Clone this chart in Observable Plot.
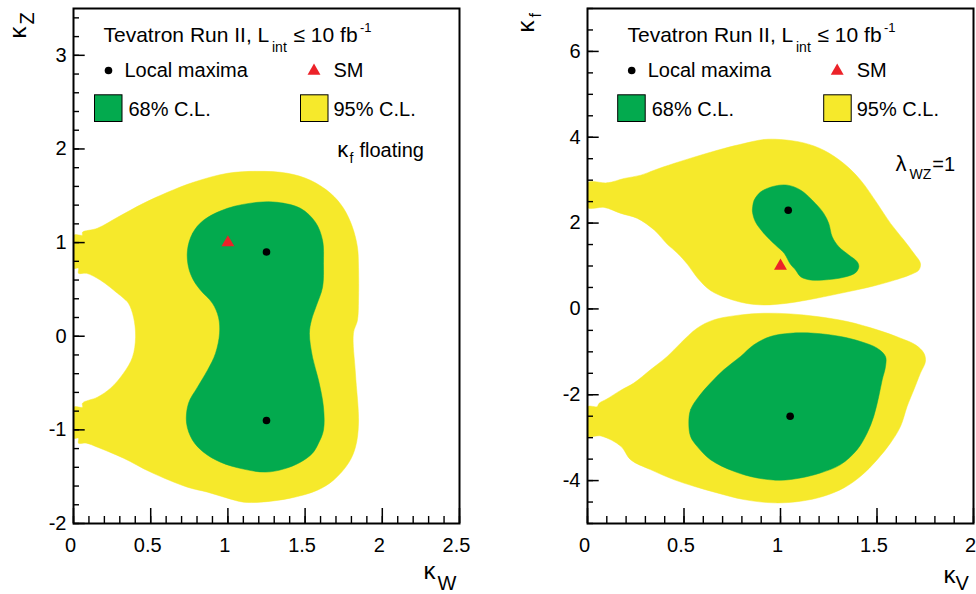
<!DOCTYPE html>
<html><head><meta charset="utf-8">
<script src="https://cdn.jsdelivr.net/npm/d3@7"></script>
<script src="https://cdn.jsdelivr.net/npm/@observablehq/plot@0.6"></script>
<style>
body{margin:0;background:#fff;}
#wrap{display:flex;width:976px;height:594px;overflow:hidden;}
#wrap svg{flex:0 0 auto;overflow:visible;}
</style></head><body><div id="wrap"></div>
<script>
// ---------- data ----------
// Left panel: kappa_W (x) vs kappa_Z (y), kappa_f floating
const leftYellow95 = [[0,1.078],[0.058,1.078],[0.058,1.11],[0.155,1.153],[0.285,1.27],[0.453,1.419],[0.609,1.537],[0.777,1.644],[0.997,1.74],[1.192,1.761],[1.386,1.74],[1.535,1.665],[1.665,1.526],[1.749,1.366],[1.807,1.163],[1.839,0.95],[1.846,0.736],[1.846,0.384],[1.839,0.171],[1.813,0.032],[1.826,-0.395],[1.846,-0.928],[1.826,-1.185],[1.781,-1.355],[1.684,-1.537],[1.58,-1.644],[1.405,-1.729],[1.211,-1.772],[1.101,-1.772],[0.997,-1.729],[0.868,-1.665],[0.738,-1.612],[0.499,-1.451],[0.324,-1.302],[0.155,-1.185],[0.084,-1.142],[0.032,-1.142],[0.032,-1.089],[0,-1.089],[0,-0.758],[0.058,-0.758],[0.058,-0.715],[0.155,-0.651],[0.24,-0.555],[0.324,-0.395],[0.382,-0.224],[0.402,-0.011],[0.389,0.203],[0.356,0.352],[0.324,0.406],[0.285,0.459],[0.175,0.598],[0.084,0.672],[0.032,0.672],[0.032,0.726],[0,0.726]];
const leftGreen68 = [[0.738,0.918],[0.771,1.099],[0.842,1.238],[0.997,1.366],[1.192,1.43],[1.321,1.43],[1.47,1.366],[1.567,1.217],[1.613,1.025],[1.619,0.779],[1.613,0.523],[1.574,0.331],[1.541,0.171],[1.528,0.032],[1.548,-0.224],[1.587,-0.47],[1.619,-0.758],[1.619,-1.003],[1.587,-1.142],[1.548,-1.249],[1.47,-1.345],[1.36,-1.419],[1.244,-1.451],[1.101,-1.419],[0.952,-1.345],[0.842,-1.238],[0.771,-1.11],[0.732,-0.928],[0.745,-0.715],[0.803,-0.544],[0.868,-0.363],[0.92,-0.181],[0.946,0.032],[0.939,0.203],[0.9,0.352],[0.823,0.491],[0.777,0.598],[0.745,0.736]];
const leftMaxima = [[1.25,0.9],[1.25,-0.9]];
const leftSM = [[1,1]];

// Right panel: kappa_V (x) vs kappa_f (y), lambda_WZ = 1
const rightYellowUpper95 = [[0,2.937],[0.104,2.937],[0.19,3.04],[0.276,3.116],[0.346,3.233],[0.447,3.388],[0.568,3.558],[0.706,3.737],[0.81,3.853],[0.914,3.947],[1.0,3.947],[1.121,3.868],[1.224,3.698],[1.328,3.388],[1.415,3.0],[1.501,2.458],[1.57,1.993],[1.639,1.605],[1.691,1.295],[1.725,1.063],[1.717,0.907],[1.682,0.814],[1.622,0.714],[1.483,0.535],[1.311,0.364],[1.14,0.209],[1.026,0.128],[0.912,0.093],[0.819,0.133],[0.725,0.249],[0.637,0.43],[0.57,0.72],[0.518,1.04],[0.466,1.3],[0.415,1.5],[0.346,1.837],[0.259,2.109],[0.173,2.226],[0.087,2.365],[0,2.365]];
const rightGreenUpper68 = [[0.855,2.349],[0.864,2.535],[0.898,2.728],[0.967,2.86],[1.036,2.884],[1.105,2.767],[1.181,2.458],[1.224,2.226],[1.25,1.993],[1.268,1.681],[1.302,1.449],[1.354,1.256],[1.397,1.1],[1.406,0.984],[1.389,0.844],[1.328,0.737],[1.224,0.674],[1.155,0.674],[1.104,0.751],[1.078,0.907],[1.05,1.05],[1.02,1.29],[0.974,1.488],[0.914,1.76],[0.87,2.03],[0.855,2.25]];
const rightYellowLower95 = [[0,-2.28],[0.05,-2.28],[0.06,-2.2],[0.1,-2.1],[0.171,-1.9],[0.24,-1.728],[0.326,-1.419],[0.413,-1.109],[0.482,-0.798],[0.568,-0.449],[0.654,-0.256],[0.793,-0.14],[0.914,-0.101],[1.052,-0.116],[1.19,-0.178],[1.346,-0.294],[1.501,-0.488],[1.622,-0.682],[1.699,-0.837],[1.743,-1.031],[1.751,-1.225],[1.725,-1.496],[1.691,-1.884],[1.656,-2.271],[1.622,-2.736],[1.57,-3.124],[1.501,-3.512],[1.415,-3.899],[1.328,-4.171],[1.224,-4.364],[1.104,-4.481],[0.965,-4.519],[0.81,-4.442],[0.672,-4.287],[0.551,-4.132],[0.447,-3.977],[0.326,-3.744],[0.223,-3.512],[0.173,-3.2],[0.07,-2.96],[0,-2.96]];
const rightGreenLower68 = [[0.525,-2.658],[0.534,-2.349],[0.577,-2.039],[0.637,-1.728],[0.706,-1.419],[0.793,-1.109],[0.862,-0.837],[0.948,-0.643],[1.052,-0.566],[1.173,-0.566],[1.311,-0.643],[1.415,-0.76],[1.501,-0.915],[1.544,-1.109],[1.544,-1.341],[1.527,-1.651],[1.509,-2.039],[1.483,-2.504],[1.449,-2.891],[1.397,-3.279],[1.311,-3.628],[1.207,-3.822],[1.104,-3.938],[1.0,-3.992],[0.879,-3.938],[0.758,-3.783],[0.637,-3.512],[0.568,-3.202],[0.534,-2.97]];
const rightMaxima = [[1.04,2.3],[1.05,-2.5]];
const rightSM = [[1,1]];

// tick labels
const leftXTicks = [0, 0.5, 1, 1.5, 2, 2.5];
const leftYTicks = [-2, -1, 0, 1, 2, 3];
const rightXTicks = [0, 0.5, 1, 1.5, 2];
const rightYTicks = [-4, -2, 0, 2, 4, 6];

// ---------- styling ----------
const FONT = "Liberation Sans, Arial, Helvetica, sans-serif";
const YEL = "#f6e92b", GRN = "#03aa4e", RED = "#ec2229";
const H = 594, MT = 8, MB = 71;

function panel(o) {
  const innerW = o.width - o.mL - o.mR, innerH = H - MT - MB;
  const T = (txt, dx, dy, fontSize = 20, extra = {}) =>
    Plot.text([txt], {text: d => d, frameAnchor: "top-left", dx, dy, fontSize, textAnchor: "start", lineAnchor: "bottom", fill: "black", ...extra});
  const L = o.legDx;
  const box = (bx, color) => Plot.frame({fill: color, stroke: "black", strokeWidth: 1,
    insetLeft: bx, insetTop: 86.3, insetRight: innerW - bx - 27.5, insetBottom: innerH - 86.3 - 26.7});
  const marks = [
    ...o.yellow.map(p => Plot.line(p, {x: d => d[0], y: d => d[1], fill: YEL, stroke: YEL, strokeWidth: 0.5, curve: "catmull-rom-closed", clip: true})),
    ...o.green.map(p => Plot.line(p, {x: d => d[0], y: d => d[1], fill: GRN, stroke: GRN, strokeWidth: 0.5, curve: "catmull-rom-closed", clip: true})),
    Plot.ruleX(o.xMinor, {x: d => d, insetTop: innerH - 7, strokeWidth: 1.4, stroke: "black"}),
    Plot.ruleX(o.xTicks, {x: d => d, insetTop: innerH - 15, strokeWidth: 1.5, stroke: "black"}),
    Plot.ruleY(o.yMinor, {y: d => d, insetRight: innerW - 6, strokeWidth: 1.4, stroke: "black"}),
    Plot.ruleY(o.yTicks, {y: d => d, insetRight: innerW - 11.7, strokeWidth: 1.5, stroke: "black"}),
    Plot.frame({stroke: "black", strokeWidth: 2}),
    Plot.text(o.xTicks, {x: d => d, text: d => String(d), frameAnchor: "bottom", lineAnchor: "top", dy: 14, dx: -3, fontSize: 20, fill: "black"}),
    Plot.text(o.yTicks, {y: d => d, text: d => String(d), frameAnchor: "left", textAnchor: "end", lineAnchor: "middle", dx: -7, fontSize: 20, fill: "black"}),
    Plot.dot(o.maxima, {x: d => d[0], y: d => d[1], r: 3.8, fill: "black", stroke: "none"}),
    Plot.dot(o.sm, {x: d => d[0], y: d => d[1], symbol: "triangle", r: 4.8, fill: RED, stroke: "none"}),
    // legend
    T("Tevatron Run II, L", o.titleDx, 33.7, 21),
    T("int", o.titleDx + 168.5, 43, 14),
    T("\u2264 10 fb", o.titleDx + 190, 33.7, 21),
    T("-1", o.titleDx + 256.5, 23, 13),
    Plot.dot([0], {frameAnchor: "top-left", dx: 35 + L, dy: 62, r: 3.8, fill: "black", stroke: "none"}),
    T("Local maxima", 51 + L, 68.7),
    Plot.dot([0], {frameAnchor: "top-left", dx: 240.5 + L, dy: 62.5, r: 4.8, symbol: "triangle", fill: RED, stroke: "none"}),
    T("SM", 260 + L, 68.7),
    box(21 + L, GRN),
    T("68% C.L.", 55 + L, 107.7),
    box(227 + L, YEL),
    T("95% C.L.", 260 + L, 107.7),
    ...o.extra.map(e => T(e[0], e[1], e[2], e[3])),
    // axis titles
    ...o.xTitle.map(e => Plot.text([e[0]], {text: d => d, frameAnchor: "bottom-right", dx: e[1], dy: e[2], fontSize: e[3], textAnchor: "start", lineAnchor: "bottom", fill: "black"})),
    ...o.yTitle.map(e => Plot.text([e[0]], {text: d => d, frameAnchor: "top-left", dx: e[1], dy: e[2], fontSize: e[3], rotate: -90, textAnchor: "start", lineAnchor: "bottom", fill: "black"}))
  ];
  return Plot.plot({
    width: o.width, height: H,
    marginLeft: o.mL, marginRight: o.mR, marginTop: MT, marginBottom: MB,
    style: {fontFamily: FONT, background: "white", color: "black"},
    x: {domain: o.xDomain, axis: null},
    y: {domain: o.yDomain, axis: null},
    marks
  });
}

const left = panel({
  width: 488, mL: 73, mR: 29,
  xDomain: [0, 2.5], yDomain: [-2, 3.5],
  xTicks: leftXTicks, yTicks: leftYTicks,
  xMinor: d3.range(0, 2.5001, 0.1), yMinor: d3.range(-2, 3.5001, 0.2),
  yellow: [leftYellow95], green: [leftGreen68],
  maxima: leftMaxima, sm: leftSM,
  legDx: 0, titleDx: 30,
  extra: [["\u03ba", 263.7, 148.7, 22], ["f", 276, 154, 14], ["floating", 286, 148.7, 20]],
  xTitle: [["\u03ba", -36, 55, 24], ["W", -22, 66, 20]],
  yTitle: [["\u03ba", -48, 30, 24], ["Z", -40, 16, 20]]
});
const right = panel({
  width: 488, mL: 99, mR: 3,
  xDomain: [0, 2], yDomain: [-5, 7],
  xTicks: rightXTicks, yTicks: rightYTicks,
  xMinor: d3.range(0, 2.0001, 0.1), yMinor: d3.range(-5, 7.0001, 0.5),
  yellow: [rightYellowUpper95, rightYellowLower95], green: [rightGreenUpper68, rightGreenLower68],
  maxima: rightMaxima, sm: rightSM,
  legDx: 9.2, titleDx: 40,
  extra: [["\u03bb", 308, 162.7, 22], ["WZ", 322, 170, 14], ["=1", 344.7, 162.7, 20]],
  xTitle: [["\u03ba", -30, 59, 24], ["V", -18, 66, 20]],
  yTitle: [["\u03ba", -54, 24, 24], ["f", -47, 9, 16]]
});
document.getElementById("wrap").append(left, right);
</script></body></html>
